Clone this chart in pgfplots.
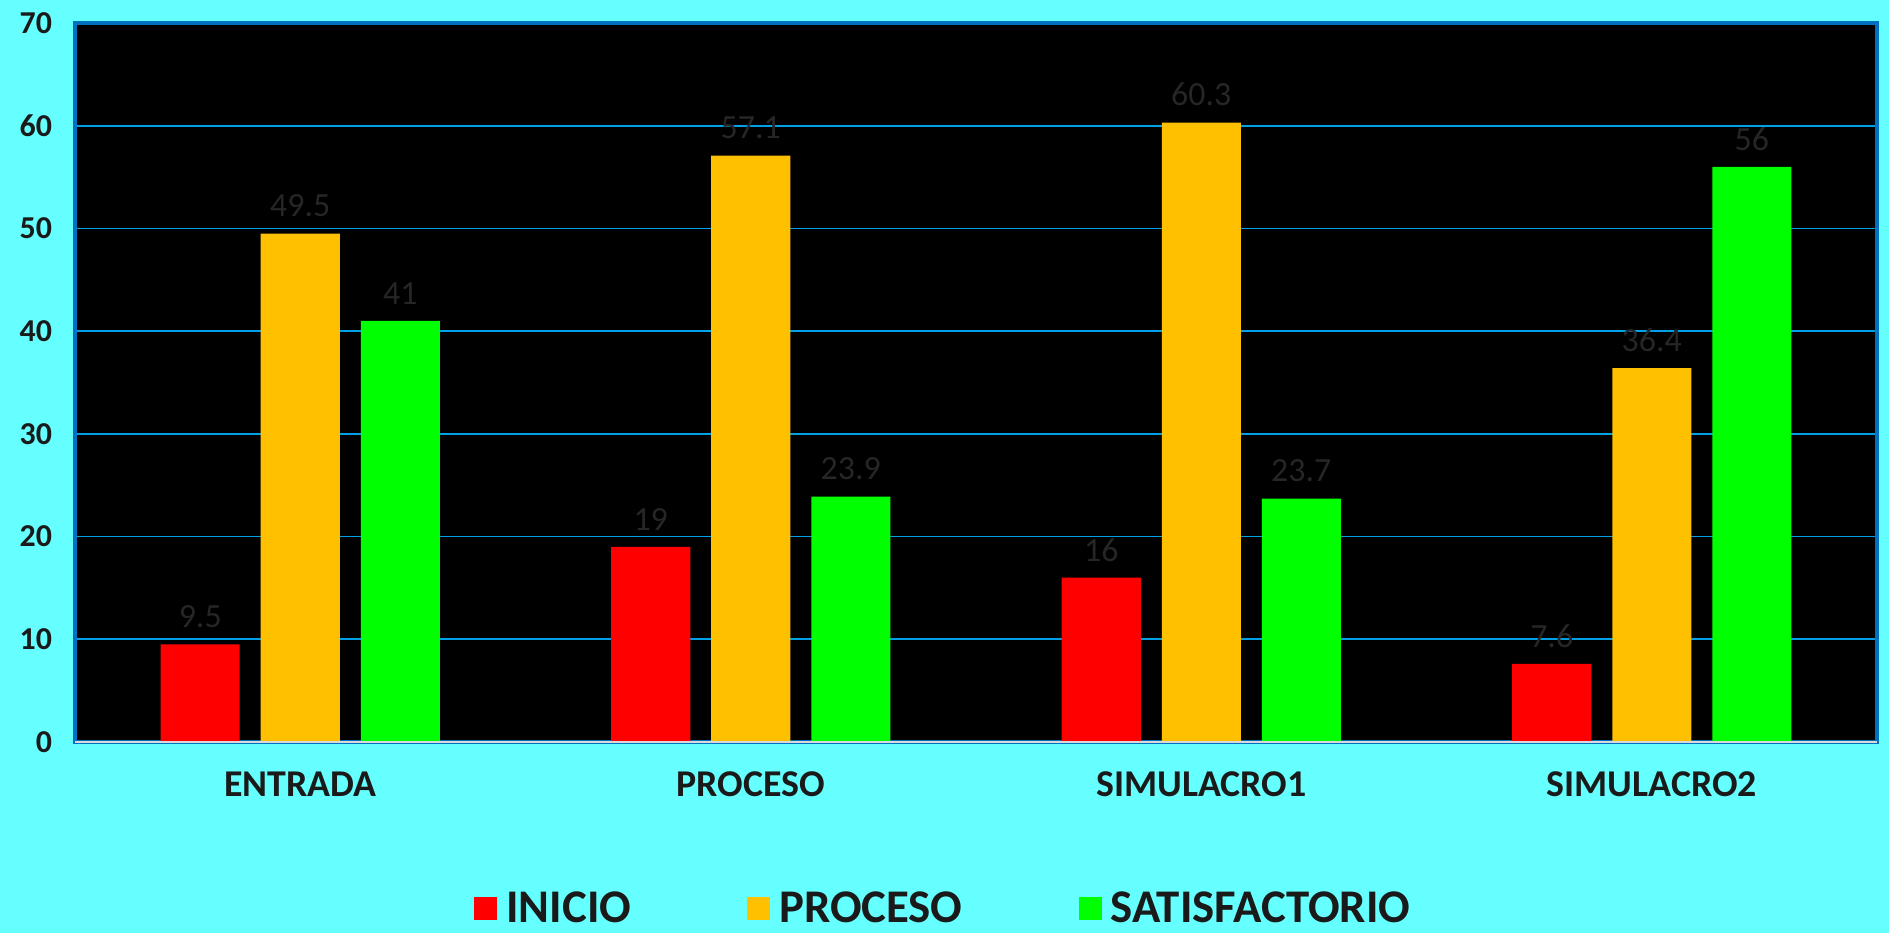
\documentclass[border=0pt]{standalone}
\usepackage{pgfplots}
\pgfplotsset{compat=1.18}
\usepackage{fontspec}
\setmainfont{Carlito}
\definecolor{bgc}{RGB}{102,255,255}
\definecolor{frameblue}{RGB}{0,112,192}
\definecolor{gridblue}{RGB}{0,160,230}
\definecolor{lblgray}{RGB}{38,38,38}
\definecolor{txt}{RGB}{26,26,26}
\definecolor{cinicio}{RGB}{255,0,0}
\definecolor{cproceso}{RGB}{255,192,0}
\definecolor{csatis}{RGB}{0,255,0}
\definecolor{basegray}{RGB}{217,217,217}
\begin{document}
\begin{tikzpicture}
\fill[bgc] (-37.5bp,-95.5bp) rectangle (907bp,371bp);
\begin{axis}[
  at={(0,0)}, anchor=south west,
  width=901bp, height=359.5bp, scale only axis,
  xmin=-0.5, xmax=3.5, ymin=0, ymax=70,
  ytick={0,10,...,70},
  xtick={0,1,2,3},
  xticklabels={ENTRADA,PROCESO,SIMULACRO1,SIMULACRO2},
  ymajorgrids, grid style={gridblue, line width=0.9bp},
  major tick length=0pt,
  axis line style={frameblue, line width=2bp},
  axis background/.style={fill=black},
  /pgf/number format/assume math mode=true,
  tick label style={text=txt},
  yticklabel style={font=\fontsize{16}{19}\selectfont\bfseries, xshift=-8bp},
  xticklabel style={font=\fontsize{19}{23}\selectfont\bfseries, yshift=-11.5bp},
  ybar, bar width=0.1754,
  nodes near coords,
  nodes near coords style={font=\fontsize{17}{20}\selectfont, text=lblgray, inner sep=0pt, yshift=8bp},
  legend style={draw=none, fill=none, font=\fontsize{23.5}{27}\selectfont\bfseries, text=txt,
    legend columns=-1,
    /tikz/every odd column/.append style={column sep=2.5bp},
    /tikz/every even column/.append style={column sep=56bp},
    at={(0.4825,-0.232)}, anchor=center},
  legend image code/.code={\fill[#1,draw=none] (0bp,-5.75bp) rectangle (11.5bp,5.75bp);},
]
\addplot[fill=cinicio, draw=none, bar shift=-0.222] coordinates {(0,9.5) (1,19) (2,16) (3,7.6)};
\addlegendentry{INICIO}
\addplot[fill=cproceso, draw=none, bar shift=0] coordinates {(0,49.5) (1,57.1) (2,60.3) (3,36.4)};
\addlegendentry{PROCESO}
\addplot[fill=csatis, draw=none, bar shift=0.222] coordinates {(0,41) (1,23.9) (2,23.7) (3,56)};
\addlegendentry{SATISFACTORIO}
\draw[basegray, line width=1bp] (rel axis cs:0,0) -- (rel axis cs:1,0);
\end{axis}
\pgfresetboundingbox
\useasboundingbox (-37.5bp,-95.5bp) rectangle (907bp,371bp);
\end{tikzpicture}
\end{document}
